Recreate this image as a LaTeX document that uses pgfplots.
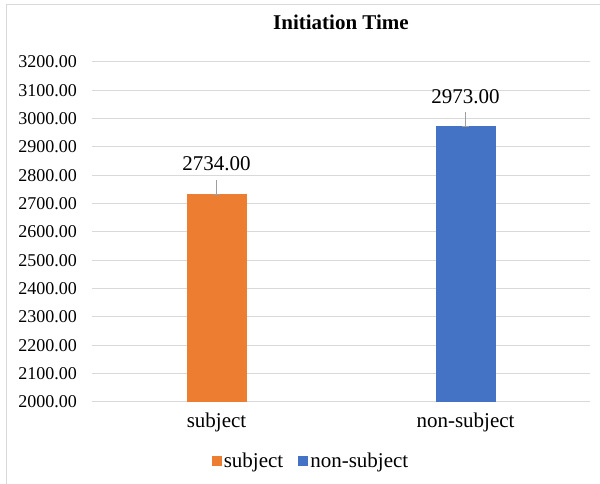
\documentclass[border=0pt]{standalone}
\usepackage{fontspec}
\setmainfont{Liberation Serif}
\usepackage{pgfplots}
\pgfplotsset{compat=1.18}
\definecolor{barorange}{HTML}{ED7D31}
\definecolor{barblue}{HTML}{4472C4}
\definecolor{gridgray}{HTML}{D9D9D9}
\definecolor{errgray}{HTML}{9E9E9E}
\begin{document}
\begin{tikzpicture}
\useasboundingbox (0,0) rectangle (600bp,484bp);
\fill[white] (0,0) rectangle (600bp,484bp);
\draw[gridgray, line width=1bp] (6bp,0) -- (6bp,479bp) -- (600bp,479bp);
\begin{axis}[
  at={(92bp,82bp)}, anchor=south west,
  scale only axis, width=498bp, height=340bp,
  xmin=-0.5, xmax=1.5, ymin=2000, ymax=3200,
  xtick={0,1}, xticklabels={subject, non-subject},
  ytick distance=100,
  axis line style={draw=none},
  major tick length=0pt,
  ymajorgrids, grid style={gridgray, line width=1bp},
  /pgf/number format/fixed,
  /pgf/number format/fixed zerofill,
  /pgf/number format/precision=2,
  /pgf/number format/1000 sep={},
  /pgf/number format/assume math mode=true,
  yticklabel style={font=\fontsize{18bp}{21bp}\selectfont, anchor=east, inner sep=0pt, xshift=-15bp},
  xticklabel style={font=\fontsize{21bp}{24bp}\selectfont, anchor=base, inner sep=0pt, yshift=-26bp},
  title={\textbf{Initiation Time}},
  title style={font=\fontsize{21bp}{24bp}\selectfont, at={(0.5,1)}, anchor=center, yshift=34bp},
  every node near coord/.append style={font=\fontsize{21bp}{24bp}\selectfont, text=black, anchor=center, yshift=30bp},
  legend style={at={(0.4398,-0.1735)}, anchor=center, draw=none,
    font=\fontsize{21bp}{24bp}\selectfont,
    /tikz/every even column/.append style={column sep=13bp},
    nodes={inner sep=2bp}},
  legend columns=-1,
  legend image code/.code={\fill (0bp,-5bp) rectangle (10bp,5bp);},
  legend image post style={xshift=-2bp},
]
% bars with upward error bars and value labels
\addplot[ybar, bar width=60bp, bar shift=0pt, fill=barorange, draw=none, nodes near coords,
  error bars/.cd, y dir=plus, y explicit, error mark=none,
  error bar style={errgray, line width=1bp}]
  coordinates {(0,2734) +- (0,50)};
\addlegendentry{subject}
\addplot[ybar, bar width=60bp, bar shift=0pt, fill=barblue, draw=none, nodes near coords,
  error bars/.cd, y dir=plus, y explicit, error mark=none,
  error bar style={errgray, line width=1bp}]
  coordinates {(1,2973) +- (0,50)};
\addlegendentry{non-subject}
% short caps at the foot of each error bar
\addplot[only marks, mark=-, mark size=3.5bp, errgray, mark options={line width=1bp}, forget plot]
  coordinates {(0,2734) (1,2973)};
\end{axis}
\end{tikzpicture}
\end{document}
